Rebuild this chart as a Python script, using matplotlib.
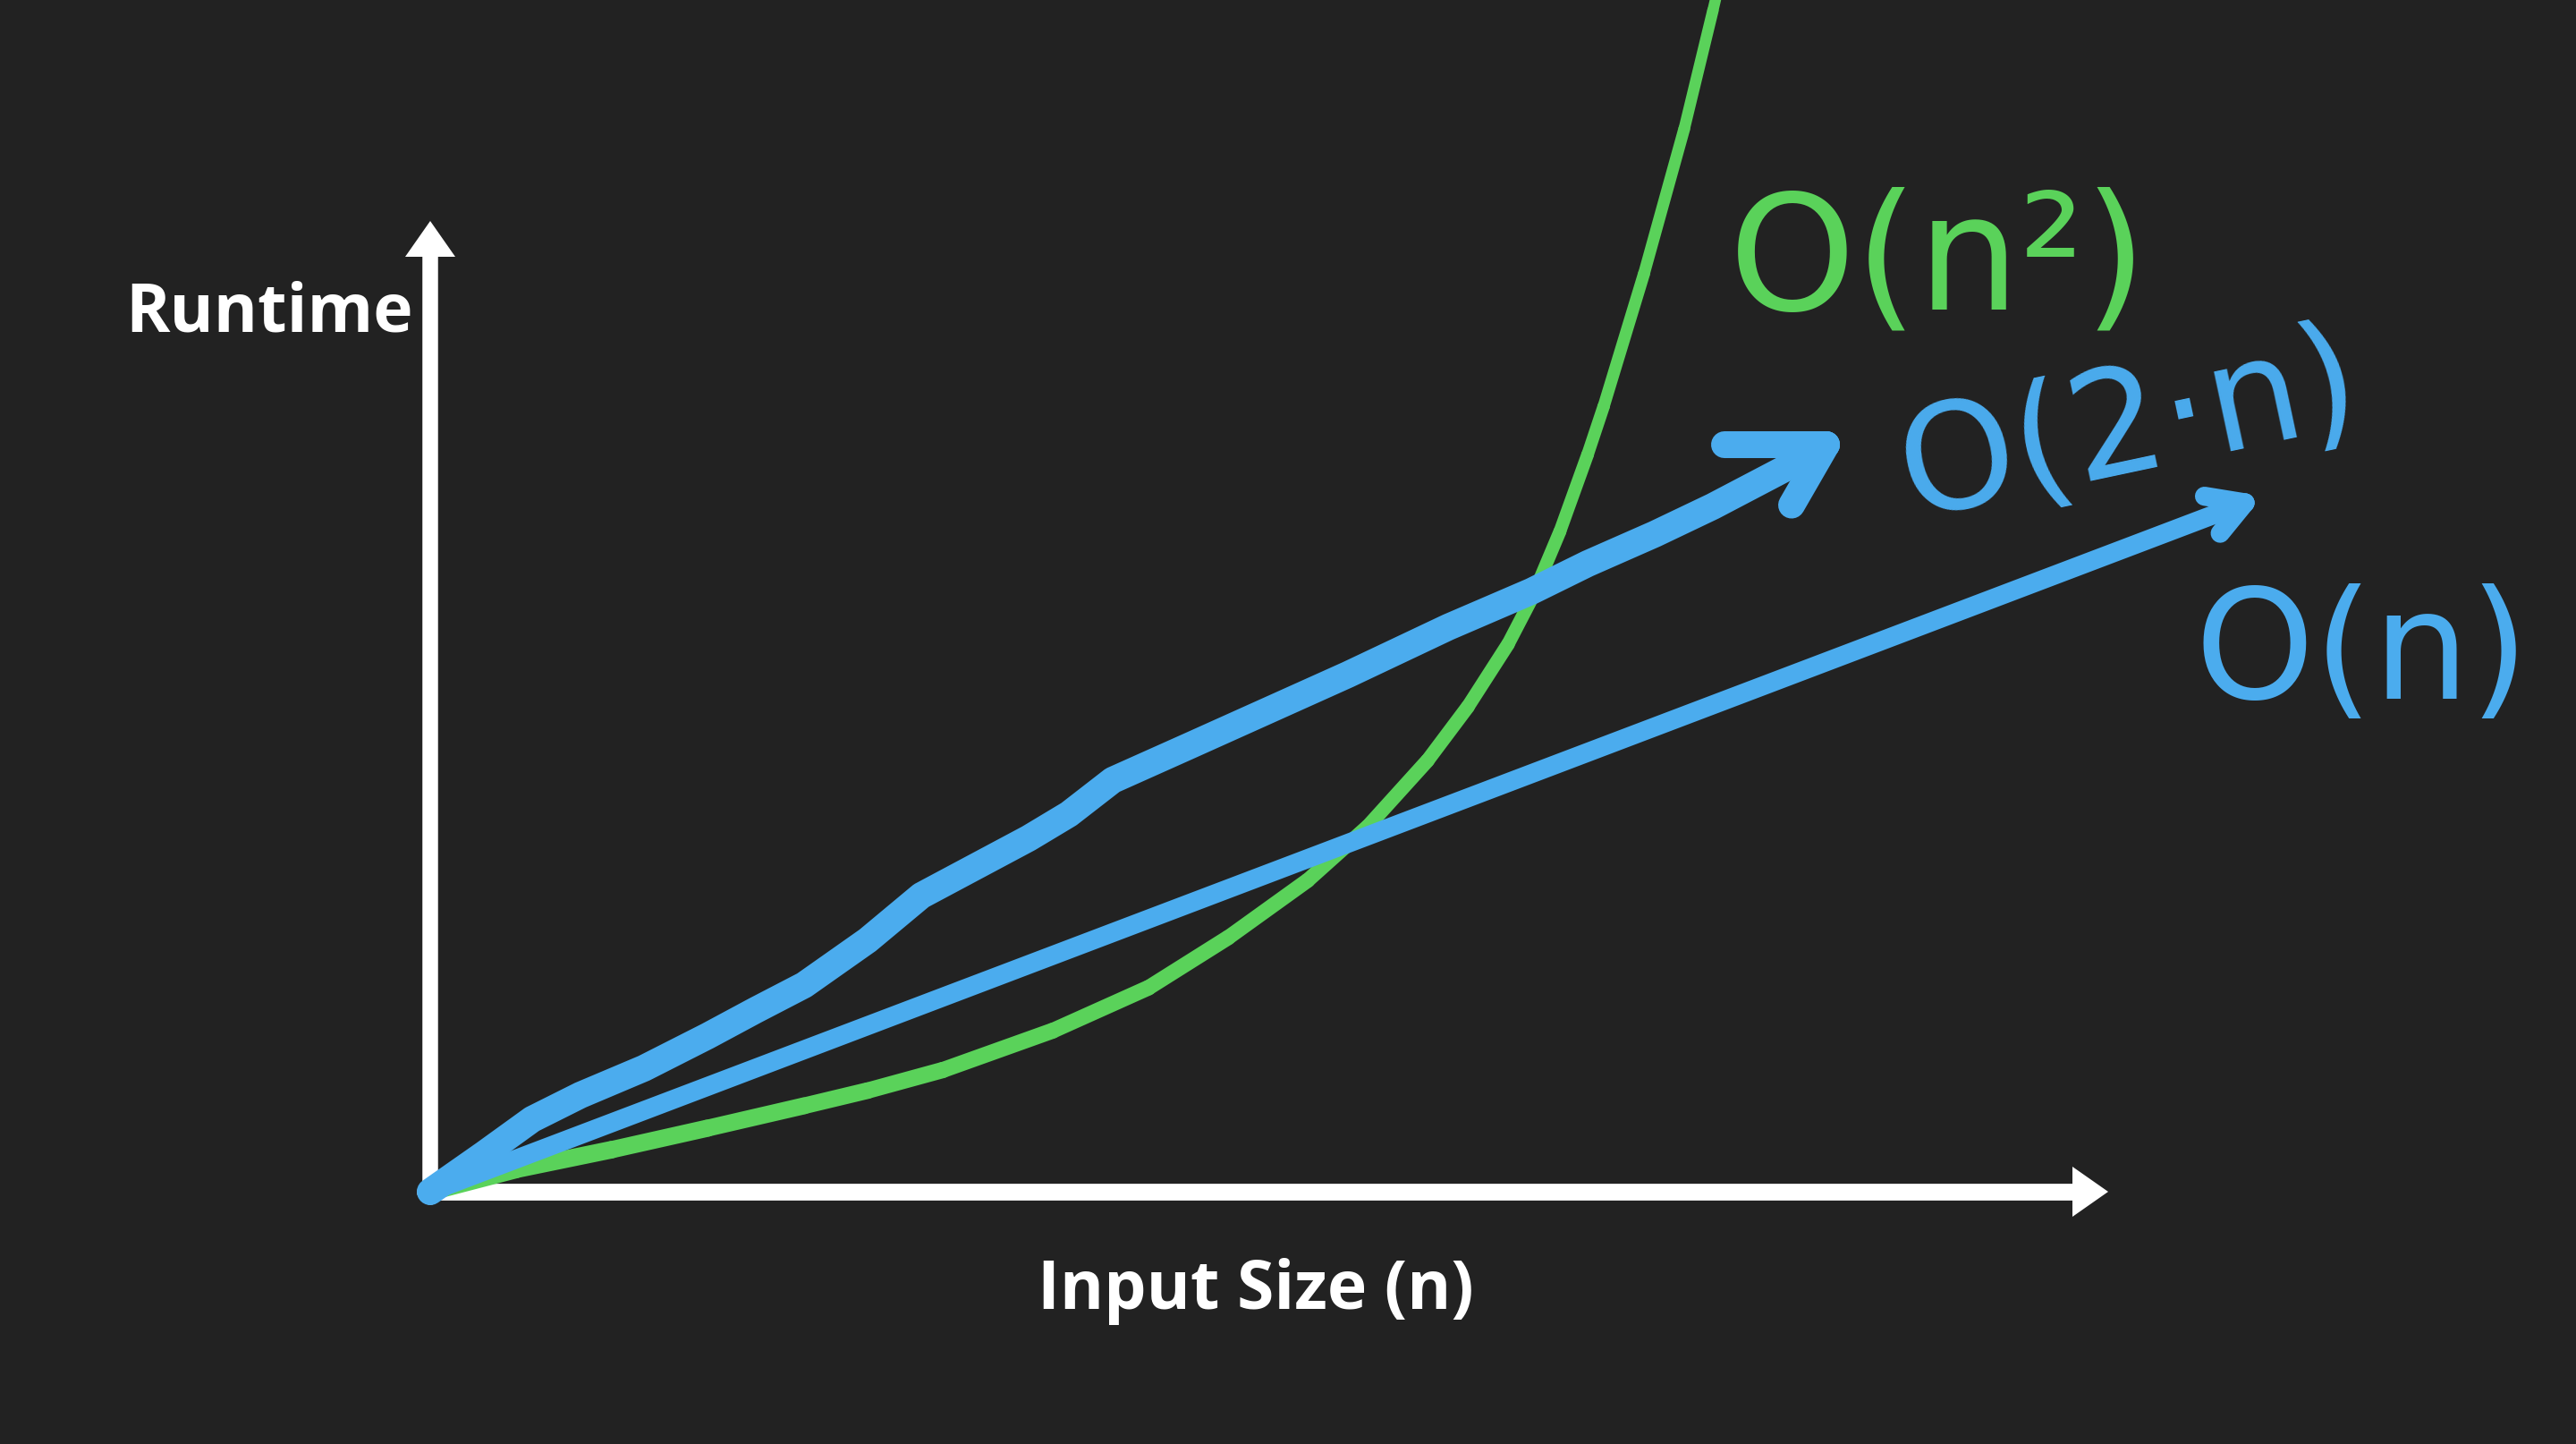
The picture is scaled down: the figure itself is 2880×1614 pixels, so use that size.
import numpy as np
import matplotlib.pyplot as plt
from matplotlib.collections import LineCollection

# chart units: 1 unit is about 200 px of the 2880x1614 picture
# O(n^2) curve (green)
quad_n = [0, 0.48, 1.015, 1.55, 2.09, 2.445, 2.865, 3.48, 4.015, 4.46, 4.905, 5.24, 5.575,
          5.8, 6.025, 6.155, 6.315, 6.47, 6.56, 6.785, 7.01, 7.17, 7.25]
quad_t = [0, 0.125, 0.235, 0.355, 0.48, 0.565, 0.68, 0.90, 1.14, 1.42, 1.74, 2.04, 2.41,
          2.71, 3.06, 3.31, 3.69, 4.12, 4.39, 5.13, 5.94, 6.6, 6.94]

# O(2n) hand drawn line (blue, thick)
lin2_n = [0, 0.3, 0.57, 0.84, 1.195, 1.55, 1.82, 2.09, 2.445, 2.745, 3.345, 3.57, 3.815,
          4.24, 4.685, 5.13, 5.69, 6.155, 6.47, 6.845, 7.17, 7.58, 7.805]
lin2_t = [0, 0.21, 0.405, 0.54, 0.69, 0.87, 1.015, 1.155, 1.405, 1.655, 1.975, 2.11, 2.3,
          2.49, 2.69, 2.89, 3.155, 3.355, 3.51, 3.675, 3.83, 4.045, 4.175]

# O(n) straight line (blue)
lin_n = [0, 10.145]
lin_t = [0, 3.85]

x_axis_end = 9.38
y_axis_end = 5.425

BG = '#222222'
GREEN = '#5AD25A'
BLUE = '#4BACEE'

plt.rcParams['font.family'] = ['Open Sans', 'DejaVu Sans']


def barbs(ax, xs, ys, lengths, spread, **kw):
    # open arrow head at the end of a hand drawn line
    dx, dy = xs[-1] - xs[-2], ys[-1] - ys[-2]
    back = np.arctan2(-dy, -dx)
    for L, sgn in zip(lengths, (-1, 1)):
        a = back + sgn * np.radians(spread)
        ax.plot([xs[-1], xs[-1] + L * np.cos(a)], [ys[-1], ys[-1] + L * np.sin(a)], **kw)


def axis_arrow(ax, end, horizontal, lw, head_len=0.2, head_half=0.14):
    if horizontal:
        ax.plot([-0.03, end - head_len], [0, 0], color='white', lw=lw,
                solid_capstyle='round', zorder=1)
        ax.fill([end, end - head_len, end - head_len], [0, head_half, -head_half],
                color='white', lw=0, zorder=1)
    else:
        ax.plot([0, 0], [-0.03, end - head_len], color='white', lw=lw,
                solid_capstyle='round', zorder=1)
        ax.fill([0, head_half, -head_half], [end, end - head_len, end - head_len],
                color='white', lw=0, zorder=1)


fig = plt.figure(figsize=(16, 8.9667), dpi=180)
fig.patch.set_facecolor(BG)
ax = fig.add_axes([0, 0, 1, 1])
ax.set_facecolor(BG)
ax.set_xlim(-2.405, 11.995)
ax.set_ylim(-1.41, 6.66)
ax.axis('off')

axis_arrow(ax, x_axis_end, True, 7.5)
axis_arrow(ax, y_axis_end, False, 7)

# green curve, pen gets lighter towards the top
pts = np.column_stack([quad_n, quad_t])
segs = np.stack([pts[:-1], pts[1:]], axis=1)
lc = LineCollection(segs, colors=GREEN, linewidths=np.linspace(8, 5, len(segs)),
                    capstyle='round', joinstyle='round', zorder=2)
ax.add_collection(lc)

style = dict(solid_capstyle='round', solid_joinstyle='round')
ax.plot(lin_n, lin_t, color=BLUE, lw=8.5, zorder=3, **style)
barbs(ax, lin_n, lin_t, (0.23, 0.22), 30, color=BLUE, lw=8.5, zorder=3, **style)
ax.plot(lin2_n, lin2_t, color=BLUE, lw=12, zorder=3, **style)
barbs(ax, lin2_n, lin2_t, (0.57, 0.39), 30, color=BLUE, lw=12, zorder=3, **style)

# labels
ax.text(-0.9, 4.81, 'Runtime', color='white', fontsize=30, fontweight='bold',
        ha='center', va='baseline')
ax.text(4.615, -0.655, 'Input Size (n)', color='white', fontsize=30, fontweight='bold',
        ha='center', va='baseline')

hand = ['DejaVu Sans']
ax.text(8.43, 4.935, 'O(n²)', color=GREEN, fontsize=72, family=hand, ha='center', va='baseline')
ax.text(9.5, 4.26, 'O(2·n)', color=BLUE, fontsize=66, family=hand, ha='center', va='center',
        rotation=12)
ax.text(10.8, 2.99, 'O(n)', color=BLUE, fontsize=68, family=hand, ha='center', va='center')

plt.savefig('out.png', dpi=180, facecolor=BG)
